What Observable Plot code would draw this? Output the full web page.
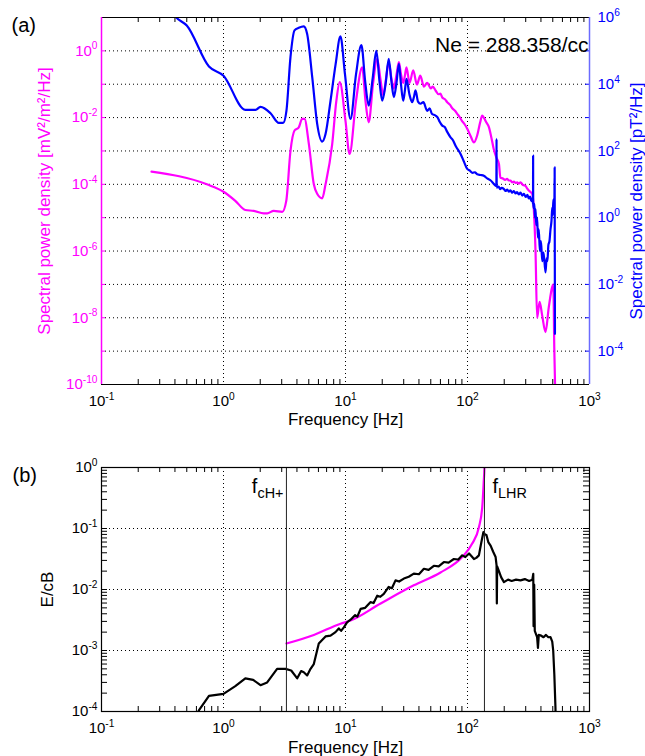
<!DOCTYPE html>
<html><head><meta charset="utf-8">
<script src="https://cdn.jsdelivr.net/npm/d3@7"></script>
<script src="https://cdn.jsdelivr.net/npm/@observablehq/plot@0.6"></script>
<style>
body{margin:0;background:#fff;}
#chart{width:645px;height:756px;}
#chart svg{display:block;}
</style></head><body><div id="chart"></div>
<script>
// ---------- Panel (a): electric (magenta) and magnetic (blue) spectra ----------
const magFreq = [0.257,0.73,1.0,1.25,1.51,1.77,2.14,2.28,2.58,3.03,3.27,3.54,3.82,4.14,4.41,4.61,5.01,5.50,5.86,6.44,6.86,7.78,8.4,8.97,10.0,10.8,12.2,13.7,14.6,15.5,16.8,18.2,19.3,20.4,21.5,22.6,23.8,24.9,26.1,27.4,28.5,29.7,30.6,31.6,33.5,35.9,38.5,41,44,46.7,50,52,54.7,58,60,62.1,65,68.2,72,75,79,82.4,86,90,95,99.5,106,113,120,127,132,136,143,150,157,164,172,181,186,195,203,211,218,225,232,240,248,255,263,272,285,298,308,318,330,339,349,361,372,390,409,436,464,494,505,515,522];
const magPSD = [2.4e-4,1.0e-4,6.0e-5,3.2e-5,1.7e-5,1.6e-5,1.35e-5,1.35e-5,1.6e-5,1.5e-5,3.2e-5,1.0e-3,4.1e-3,5.1e-3,9.1e-3,9.1e-3,1.6e-3,1.0e-4,5.2e-5,3.8e-5,1.0e-4,1.6e-3,0.03,0.115,8e-3,8.1e-4,0.032,0.32,0.03,7.2e-3,0.1,0.58,0.15,0.046,0.15,0.45,0.15,0.074,0.18,0.46,0.2,0.11,0.17,0.32,0.11,0.26,0.098,0.18,0.085,0.11,0.075,0.085,0.065,0.05,0.052,0.04,0.036,0.029,0.024,0.019,0.016,0.013,0.0105,0.008,0.0062,0.0046,0.0028,0.0018,0.0029,0.0072,0.0115,0.01,0.0071,0.0051,0.0025,0.00115,6.5e-4,4.1e-4,1.6e-4,1.5e-4,1.35e-4,1.45e-4,1.3e-4,1.3e-4,1.15e-4,1.2e-4,1.1e-4,1.15e-4,1.05e-4,1.15e-4,9.5e-5,9.1e-5,7.5e-5,6.5e-5,5.8e-5,5.2e-5,2.0e-5,1.0e-6,1.0e-8,3e-8,1.2e-8,3.7e-9,2.1e-8,8.3e-8,1e-7,1e-9,1e-10];

const bluFreq = [0.38,0.41,0.50,0.76,1.0,1.51,1.83,2.01,2.43,2.84,3.08,3.28,3.54,3.82,4.14,4.55,4.85,5.34,5.86,6.44,6.86,7.54,8.3,9.09,9.9,11.0,12.2,13.5,14.5,15.5,16.7,17.9,19.0,20.0,21.3,22.6,23.8,24.9,26.1,27.4,28.5,29.7,30.6,31.6,33.4,35.2,36.3,37.5,39.3,41.2,43.5,46.7,49,51,54.7,57,59,62.1,65,68,72.6,76,80,87.7,93,99.5,104,110,115,120,128,136,145,155,162,170,172.5,173,173.5,180,185,190,199,205,212,218,225,232,240,248,255,263,272,281,290,300,310,318,326,333,340,344.5,345,345.5,349,353,357,361,366,372,378,384,392,400,410,420,436,445,452,460,470,479,488,495,500,505,510,515,518,519,521];
const bluPSD = [1.4e6,1.0e6,5.75e5,3.4e4,1.8e4,1.7e3,1.7e3,2.1e3,1.35e3,690,690,1.6e3,6.5e4,4.1e5,4.9e5,5.4e5,3.2e5,1.6e4,650,190,320,3.2e3,4e4,2.7e5,2e4,910,2e4,1.5e5,1.2e4,2.3e3,1.5e4,1.0e5,1.2e4,3.2e3,1e4,5.75e4,1.2e4,4.1e3,1e4,4.1e4,1e4,3.2e3,6e3,1.45e4,5e3,2.9e3,4e3,6.5e3,3e3,2.6e3,2.9e3,1.6e3,1.9e3,1.3e3,1.15e3,1.0e3,760,575,520,380,257,210,140,81,50,29,26,22,23,20,19,18,15,13,11,9.1,9,230,8,8.5,7.2,7.8,7.2,6.3,7.0,6.0,6.6,5.6,6.3,5.3,5.8,5.0,5.6,4.6,5.2,4.2,4.8,3.8,4.3,3.2,3.8,2.6,72,2.8,1.9,2.6,1.0,1.8,0.6,1.0,0.25,0.45,0.1,0.2,0.05,0.09,0.023,0.06,0.05,0.15,0.2,0.45,0.8,2,1.2,3.5,2.5,1.5,32,0.5,3.3e-4];

// ---------- Panel (b): E/cB ratio (black) and theoretical curve (magenta) ----------
const ecbFreq = [0.58,0.63,0.76,1.0,1.25,1.51,1.75,2.01,2.28,2.75,3.22,3.59,4.02,4.33,4.55,4.85,5.17,5.50,6.04,6.86,7.54,8.28,8.81,9.2,9.69,10.3,11.0,12.0,12.5,13.3,14.5,16.0,17.0,18.2,19.3,20.6,22.6,24,25.7,27.5,30.1,33,36.3,40,43.9,48,53.0,58,64.0,70,77.3,84,90.5,96,103,108,113,118,124,130,135,139,143,148,155,162,170,173,174,175,181,189,199,215,230,250,272,295,320,340,346,348,352,356,372,378,384,396,420,440,460,479,495,504,515,526,528];
const ecbRatio = [7.9e-5,1.05e-4,1.8e-4,1.95e-4,2.6e-4,3.5e-4,3.3e-4,2.7e-4,3.0e-4,5.0e-4,5.0e-4,4.7e-4,3.5e-4,4.6e-4,4.4e-4,3.9e-4,5.0e-4,6.0e-4,1.3e-3,1.7e-3,1.75e-3,2.0e-3,2.3e-3,2.1e-3,2.4e-3,2.9e-3,3.2e-3,3.8e-3,3.6e-3,4.8e-3,5.0e-3,6.2e-3,6.0e-3,7.9e-3,7.6e-3,8.5e-3,0.011,0.0105,0.0141,0.0135,0.0151,0.0162,0.0182,0.0178,0.0219,0.021,0.0245,0.024,0.0282,0.0275,0.0316,0.031,0.0363,0.034,0.0389,0.035,0.0316,0.033,0.0363,0.06,0.087,0.08,0.078,0.06,0.052,0.042,0.034,0.025,0.0059,0.024,0.020,0.0158,0.0132,0.0145,0.0138,0.0145,0.0141,0.0148,0.0138,0.0145,0.018,0.0025,0.012,0.0021,0.00166,0.0011,0.0018,0.00178,0.00165,0.0018,0.00165,0.00166,0.0014,0.001,4e-4,1.17e-4,8e-5];
const theoFreq = [3.28,5.5,9.1,11.0,19.4,36.3,60.1,90.5,109,124,132,136,137.7,137.8];
const theoRatio = [1.3e-3,1.8e-3,2.75e-3,3.1e-3,5.9e-3,0.0117,0.019,0.034,0.056,0.105,0.22,0.61,1.0,2];
const fcH = 3.28, fLHR = 137.7;

// ---------- ticks & labels ----------
const xTicks = [0.1,1,10,100,1000];
const xGrid = [1,10,100];
const yTicksA = [1,1e-2,1e-4,1e-6,1e-8,1e-10];
const yGridA = [1,1e-1,1e-2,1e-3,1e-4,1e-5,1e-6,1e-7,1e-8,1e-9];
const yTicksARight = [10,1e-1,1e-3,1e-5,1e-7,1e-9]; // = 10^6 ... 10^-4 pT^2/Hz
const yTicksB = [1,1e-1,1e-2,1e-3,1e-4];
const yGridB = [1e-1,1e-2,1e-3];
const textNe = "Ne = 288.358/cc";
const labelXA = "Frequency [Hz]";
const labelYA = "Spectral power density [mV²/m²/Hz]";
const labelYA2 = "Spectral power density [pT²/Hz]";
const labelYB = "E/cB";

const minorX = [];
for (let e = -1; e < 3; e++) for (let k = 2; k <= 9; k++) minorX.push(k * Math.pow(10, e));
const minorYB = [];
for (let e = -4; e < 0; e++) for (let k = 1; k <= 9; k++) minorYB.push(k * Math.pow(10, e));

const W = 645;
const A = {h:430, mt:17, mb:46, ml:101, mr:56};
const B = {h:326, mt:37, mb:45, ml:101, mr:56};
const MAG = "#ff00ff", BLU = "#0000ff";
const FONT = "'Liberation Sans', Arial, Helvetica, sans-serif";
const sup = d => "10^" + Math.round(Math.log10(d));
const innerW = W - A.ml - A.mr;
const innerHA = A.h - A.mt - A.mb;
const innerHB = B.h - B.mt - B.mb;
const dot = {stroke:"#000", strokeWidth:1, strokeDasharray:"1,3"};

const magData = magFreq.map((f,i)=>({f, v:magPSD[i]}));
const bluData = bluFreq.map((f,i)=>({f, v:bluPSD[i]}));
const ecbData = ecbFreq.map((f,i)=>({f, v:ecbRatio[i]}));
const theoData = theoFreq.map((f,i)=>({f, v:theoRatio[i]}));

const plotA = Plot.plot({
  width:W, height:A.h, marginTop:A.mt, marginBottom:A.mb, marginLeft:A.ml, marginRight:A.mr,
  style:{fontFamily:FONT, fontSize:"15px", background:"#fff", color:"#000", overflow:"visible"},
  x:{type:"log", domain:[0.1,1000]},
  y:{type:"log", domain:[1e-10,10]},
  marks:[
    Plot.ruleX(xGrid, dot),
    Plot.ruleY(yGridA, dot),
    Plot.line(magData, {x:"f", y:"v", stroke:MAG, strokeWidth:2.2, clip:true, curve:"monotone-x"}),
    Plot.line(bluData, {x:"f", y:d=>d.v*1e-5, stroke:BLU, strokeWidth:2.2, clip:true, curve:"monotone-x"}),
    Plot.tickX(minorX, {x:d=>d, insetTop:innerHA-5, stroke:"#000"}),
    Plot.tickX(minorX, {x:d=>d, insetBottom:innerHA-5, stroke:"#000"}),
    Plot.tickY(yGridA, {y:d=>d, insetRight:innerW-4, stroke:MAG}),
    Plot.tickY(yGridA, {y:d=>d, insetLeft:innerW-4, stroke:BLU}),
    Plot.ruleY([1e-10,10], {stroke:"#000", strokeWidth:1.2}),
    Plot.ruleX([0.1], {stroke:MAG, strokeWidth:1.5}),
    Plot.ruleX([1000], {stroke:"#6b6bff", strokeWidth:1.5}),
    Plot.axisX(xTicks, {tickSize:0, tickPadding:11, tickFormat:sup, label:null, fontSize:15}),
    Plot.axisY(yTicksA, {anchor:"left", tickSize:0, tickPadding:4, tickFormat:sup, label:null, fill:MAG, fontSize:15}),
    Plot.axisY(yTicksARight, {anchor:"right", tickSize:0, tickPadding:8, tickFormat:d=>"10^"+Math.round(Math.log10(d)+5), label:null, fill:BLU, fontSize:15}),
    Plot.text(["(a)"], {frameAnchor:"top-left", textAnchor:"start", lineAnchor:"top", dx:-90, dy:0, fontSize:20}),
    Plot.text([textNe], {frameAnchor:"top-right", textAnchor:"end", lineAnchor:"top", dx:-1, dy:20, fontSize:21}),
    Plot.text([labelXA], {frameAnchor:"bottom", textAnchor:"middle", lineAnchor:"top", dy:28, fontSize:17}),
    Plot.text([labelYA], {frameAnchor:"left", textAnchor:"middle", lineAnchor:"middle", rotate:-90, dx:-57, fontSize:17, fill:MAG}),
    Plot.text([labelYA2], {frameAnchor:"right", textAnchor:"middle", lineAnchor:"middle", rotate:-90, dx:47, fontSize:17, fill:BLU})
  ]
});

const plotB = Plot.plot({
  width:W, height:B.h, marginTop:B.mt, marginBottom:B.mb, marginLeft:B.ml, marginRight:B.mr,
  style:{fontFamily:FONT, fontSize:"15px", background:"#fff", color:"#000", overflow:"visible"},
  x:{type:"log", domain:[0.1,1000]},
  y:{type:"log", domain:[1e-4,1]},
  marks:[
    Plot.ruleX(xGrid, dot),
    Plot.ruleY(yGridB, dot),
    Plot.line(theoData, {x:"f", y:"v", stroke:MAG, strokeWidth:2.2, clip:true, curve:"monotone-x"}),
    Plot.line(ecbData, {x:"f", y:"v", stroke:"#000", strokeWidth:2.2, clip:true}),
    Plot.ruleX([fcH, fLHR], {stroke:"#222", strokeWidth:1}),
    Plot.tickX(minorX, {x:d=>d, insetTop:innerHB-5, stroke:"#000"}),
    Plot.tickX(minorX, {x:d=>d, insetBottom:innerHB-5, stroke:"#000"}),
    Plot.tickY(minorYB, {y:d=>d, insetRight:innerW-6, stroke:"#000"}),
    Plot.tickY(minorYB, {y:d=>d, insetLeft:innerW-6, stroke:"#000"}),
    Plot.frame({stroke:"#000", strokeWidth:1.2}),
    Plot.axisX(xTicks, {tickSize:0, tickPadding:11, tickFormat:sup, label:null, fontSize:15}),
    Plot.axisY(yTicksB, {anchor:"left", tickSize:0, tickPadding:4, tickFormat:sup, label:null, fontSize:15}),
    Plot.text(["(b)"], {frameAnchor:"top-left", textAnchor:"start", lineAnchor:"top", dx:-89, dy:0, fontSize:20}),
    Plot.text([{f:fcH, t:"f_cH+"}], {x:"f", text:"t", frameAnchor:"top", textAnchor:"end", lineAnchor:"top", dx:-3, dy:11, fontSize:20}),
    Plot.text([{f:fLHR, t:"f_LHR"}], {x:"f", text:"t", frameAnchor:"top", textAnchor:"start", lineAnchor:"top", dx:8, dy:11, fontSize:20}),
    Plot.text([labelXA], {frameAnchor:"bottom", textAnchor:"middle", lineAnchor:"top", dy:29, fontSize:17}),
    Plot.text([labelYB], {frameAnchor:"left", textAnchor:"middle", lineAnchor:"middle", rotate:-90, dx:-54, fontSize:17})
  ]
});

function richText(svg){
  const NS = "http://www.w3.org/2000/svg";
  svg.querySelectorAll("text").forEach(t => {
    const s = t.textContent;
    let m = s.match(/^10\^(-?\d+)$/);
    if (m) {
      t.textContent = "10";
      const ts = document.createElementNS(NS, "tspan");
      ts.setAttribute("font-size", "0.68em");
      ts.setAttribute("dy", "-0.62em");
      ts.textContent = m[1];
      t.appendChild(ts);
      return;
    }
    m = s.match(/^f_(.+)$/);
    if (m) {
      t.textContent = "f";
      const ts = document.createElementNS(NS, "tspan");
      ts.setAttribute("font-size", "0.72em");
      ts.setAttribute("dy", "0.35em");
      ts.textContent = m[1];
      t.appendChild(ts);
    }
  });
}
richText(plotA); richText(plotB);
document.getElementById("chart").append(plotA, plotB);
</script>
</body></html>
